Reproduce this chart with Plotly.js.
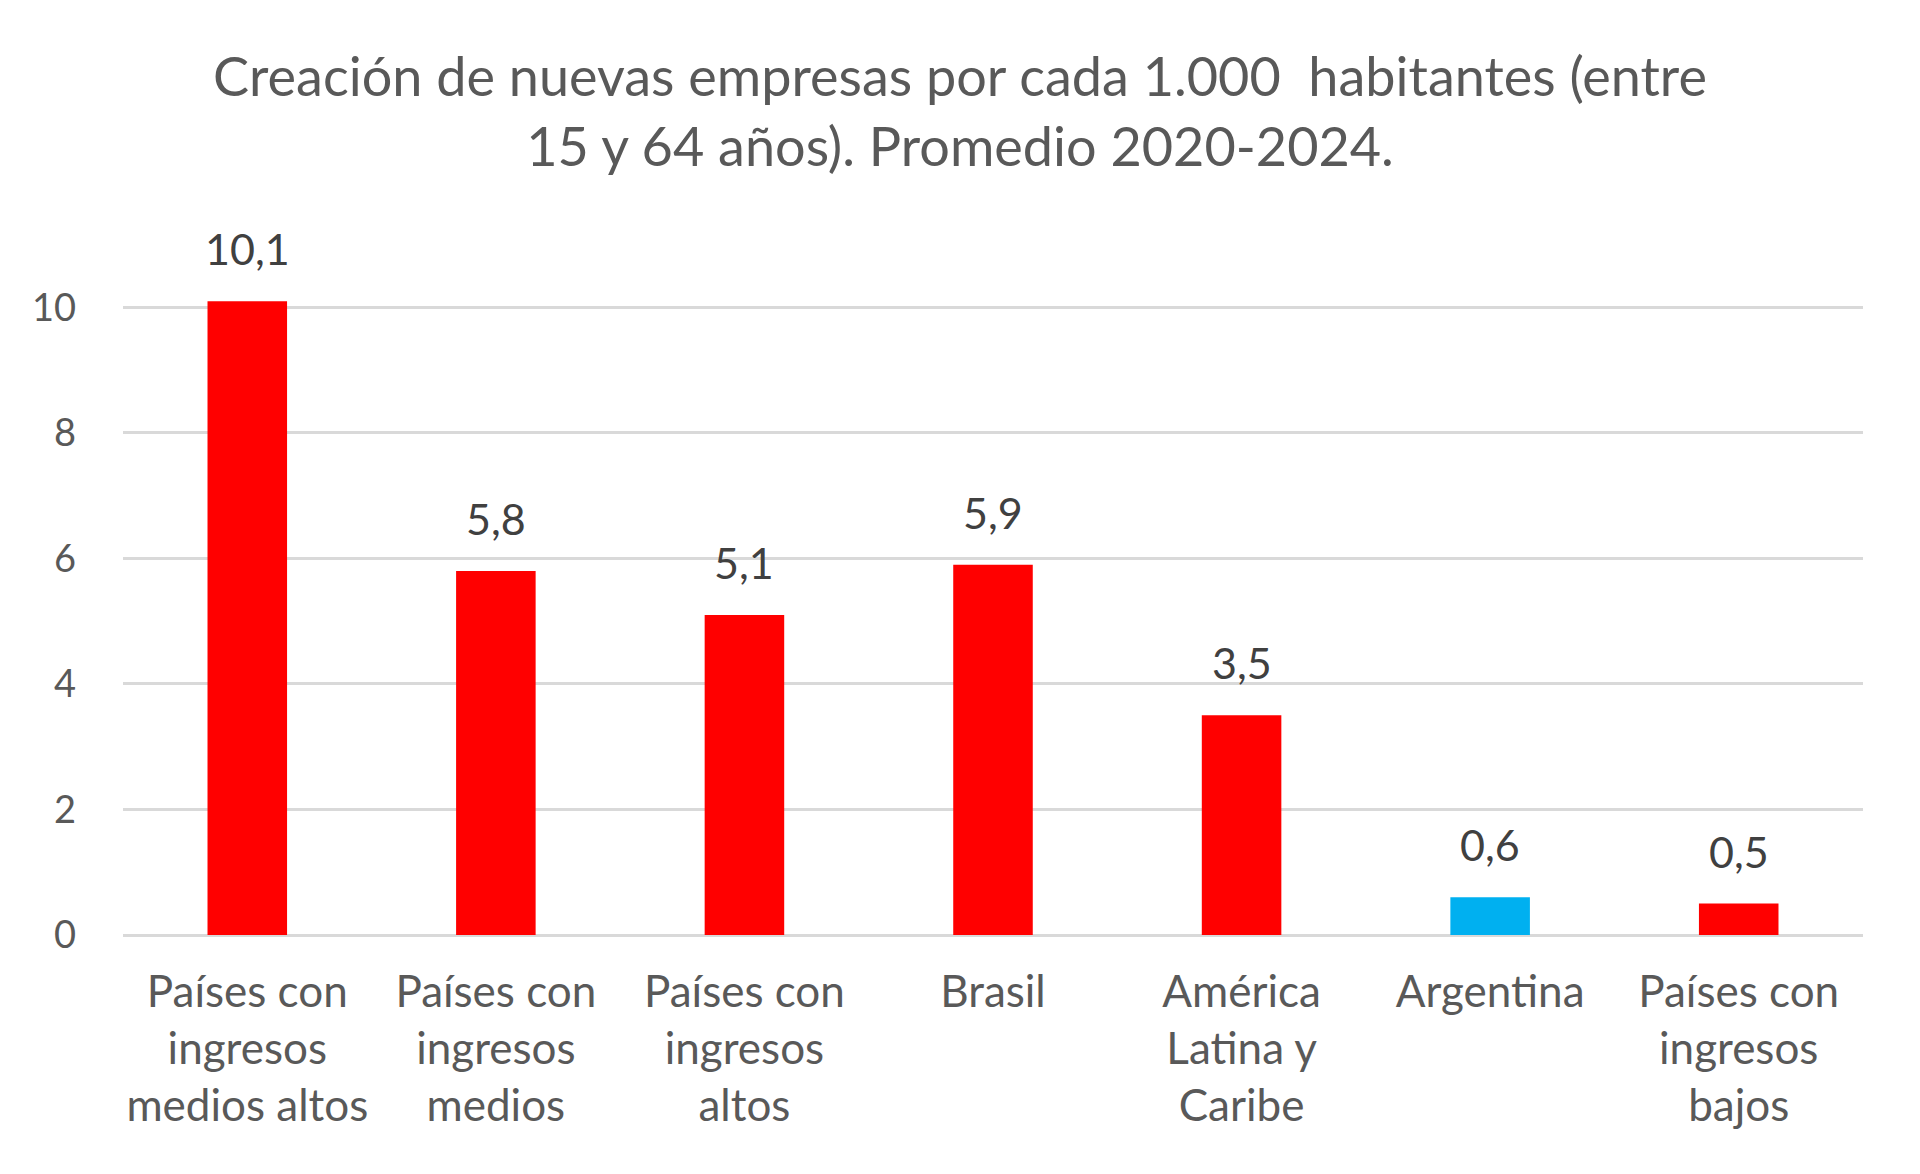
<!DOCTYPE html>
<html>
<head>
<meta charset="utf-8">
<script src="https://cdn.plot.ly/plotly-3.0.1.min.js"></script>
<style>html,body{margin:0;padding:0;background:#fff;}#chart{width:1920px;height:1174px;}</style>
</head>
<body>
<div id="chart"></div>
<script>
const categories = [
  "Países con<br>ingresos<br>medios altos",
  "Países con<br>ingresos<br>medios",
  "Países con<br>ingresos<br>altos",
  "Brasil",
  "América<br>Latina y<br>Caribe",
  "Argentina",
  "Países con<br>ingresos<br>bajos"
];
const values = [10.1, 5.8, 5.1, 5.9, 3.5, 0.6, 0.5];
const valueLabels = ["10,1", "5,8", "5,1", "5,9", "3,5", "0,6", "0,5"];
const barColors = ["#FF0000", "#FF0000", "#FF0000", "#FF0000", "#FF0000", "#00B0F0", "#FF0000"];
const yTicks = [0, 2, 4, 6, 8, 10];
const titleText = "Creación de nuevas empresas por cada 1.000  habitantes (entre<br>15 y 64 años). Promedio 2020-2024.";

const FONT = "Lato, 'Open Sans', sans-serif";

const trace = {
  type: "bar",
  x: categories,
  y: values,
  marker: { color: barColors, line: { width: 0 } },
  cliponaxis: false,
  hoverinfo: "skip"
};

const annotations = categories.map((c, i) => ({
  x: c, y: values[i], xref: "x", yref: "y",
  text: valueLabels[i], showarrow: false,
  yanchor: "bottom", yshift: 25,
  font: { family: FONT, size: 43, color: "#404040" }
}));

const layout = {
  width: 1920, height: 1174,
  paper_bgcolor: "#ffffff", plot_bgcolor: "#ffffff",
  margin: { l: 123, r: 57, t: 298, b: 239, pad: 0 },
  title: {
    text: titleText,
    x: 0.5, xanchor: "center", xref: "container",
    y: 1, yref: "container", yanchor: "top", pad: { t: 96 },
    font: { family: FONT, size: 54, color: "#595959" }
  },
  showlegend: false,
  bargap: 0.68,
  xaxis: {
    type: "category",
    tickfont: { family: FONT, size: 44, color: "#595959" },
    ticks: "", showline: false, showgrid: false,
    ticklabelstandoff: 27,
    automargin: false
  },
  yaxis: {
    range: [0, 10.15],
    tickvals: yTicks,
    ticktext: yTicks.map(String),
    tickfont: { family: FONT, size: 38, color: "#595959" },
    showgrid: true, gridcolor: "#D9D9D9", gridwidth: 3,
    zeroline: true, zerolinecolor: "#D9D9D9", zerolinewidth: 3,
    showline: false, ticks: "",
    ticklabelstandoff: 46,
    automargin: false
  },
  annotations: annotations
};

Plotly.newPlot("chart", [trace], layout, { displayModeBar: false, staticPlot: true });
</script>
</body>
</html>
